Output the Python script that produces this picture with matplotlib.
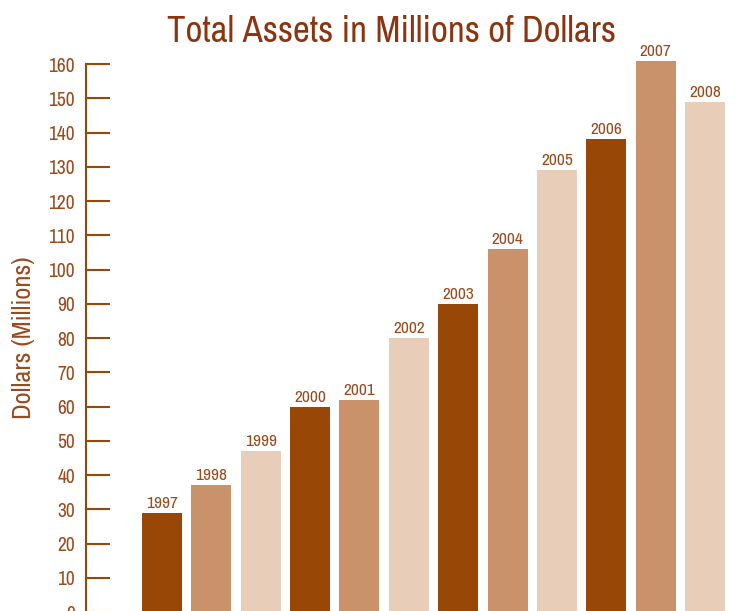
import matplotlib
matplotlib.use('Agg')
import matplotlib.pyplot as plt

years = ["1997", "1998", "1999", "2000", "2001", "2002",
         "2003", "2004", "2005", "2006", "2007", "2008"]
assets = [29, 37, 47, 60, 62, 80, 90, 106, 129, 138, 161, 149]
yticks = list(range(0, 170, 10))

dark = '#994706'
mid = '#c9926b'
light = '#e8cdb8'
text_col = '#9a4a1c'
title_col = '#8b3510'

plt.rcParams['font.family'] = ['Archivo Narrow', 'DejaVu Sans']

fig = plt.figure(figsize=(7.45, 6.11), dpi=100)
ax = fig.add_axes([86 / 745, -1.2 / 611, 659 / 745, (612.2 - 64) / 611])

# bars cycle through three shades of brown
colors = [[dark, mid, light][i % 3] for i in range(len(years))]
x = list(range(len(years)))
ax.bar(x, assets, width=0.81, color=colors, clip_on=False)
for xi, v, yr in zip(x, assets, years):
    ax.text(xi, v + 0.6, yr, ha='center', va='bottom', fontsize=12.5,
            color=text_col, clip_on=False)

ax.set_xlim(-1.54, 11.81)
ax.set_ylim(0, 160)
ax.set_yticks(yticks)
ax.set_xticks([])
for s in ['top', 'right', 'bottom']:
    ax.spines[s].set_visible(False)
ax.spines['left'].set_color(dark)
ax.spines['left'].set_linewidth(1.5)
ax.tick_params(axis='y', direction='in', length=17.5, width=1.5, color=dark,
               labelcolor=text_col, labelsize=14, pad=8)

ax.set_ylabel('Dollars (Millions)', fontsize=19, color=text_col)
ax.yaxis.set_label_coords(-0.078, 0.5)
fig.text(0.526, 0.949, 'Total Assets in Millions of Dollars', ha='center',
         va='center', fontsize=26.5, color=title_col)

fig.savefig('out.png', dpi=100)
